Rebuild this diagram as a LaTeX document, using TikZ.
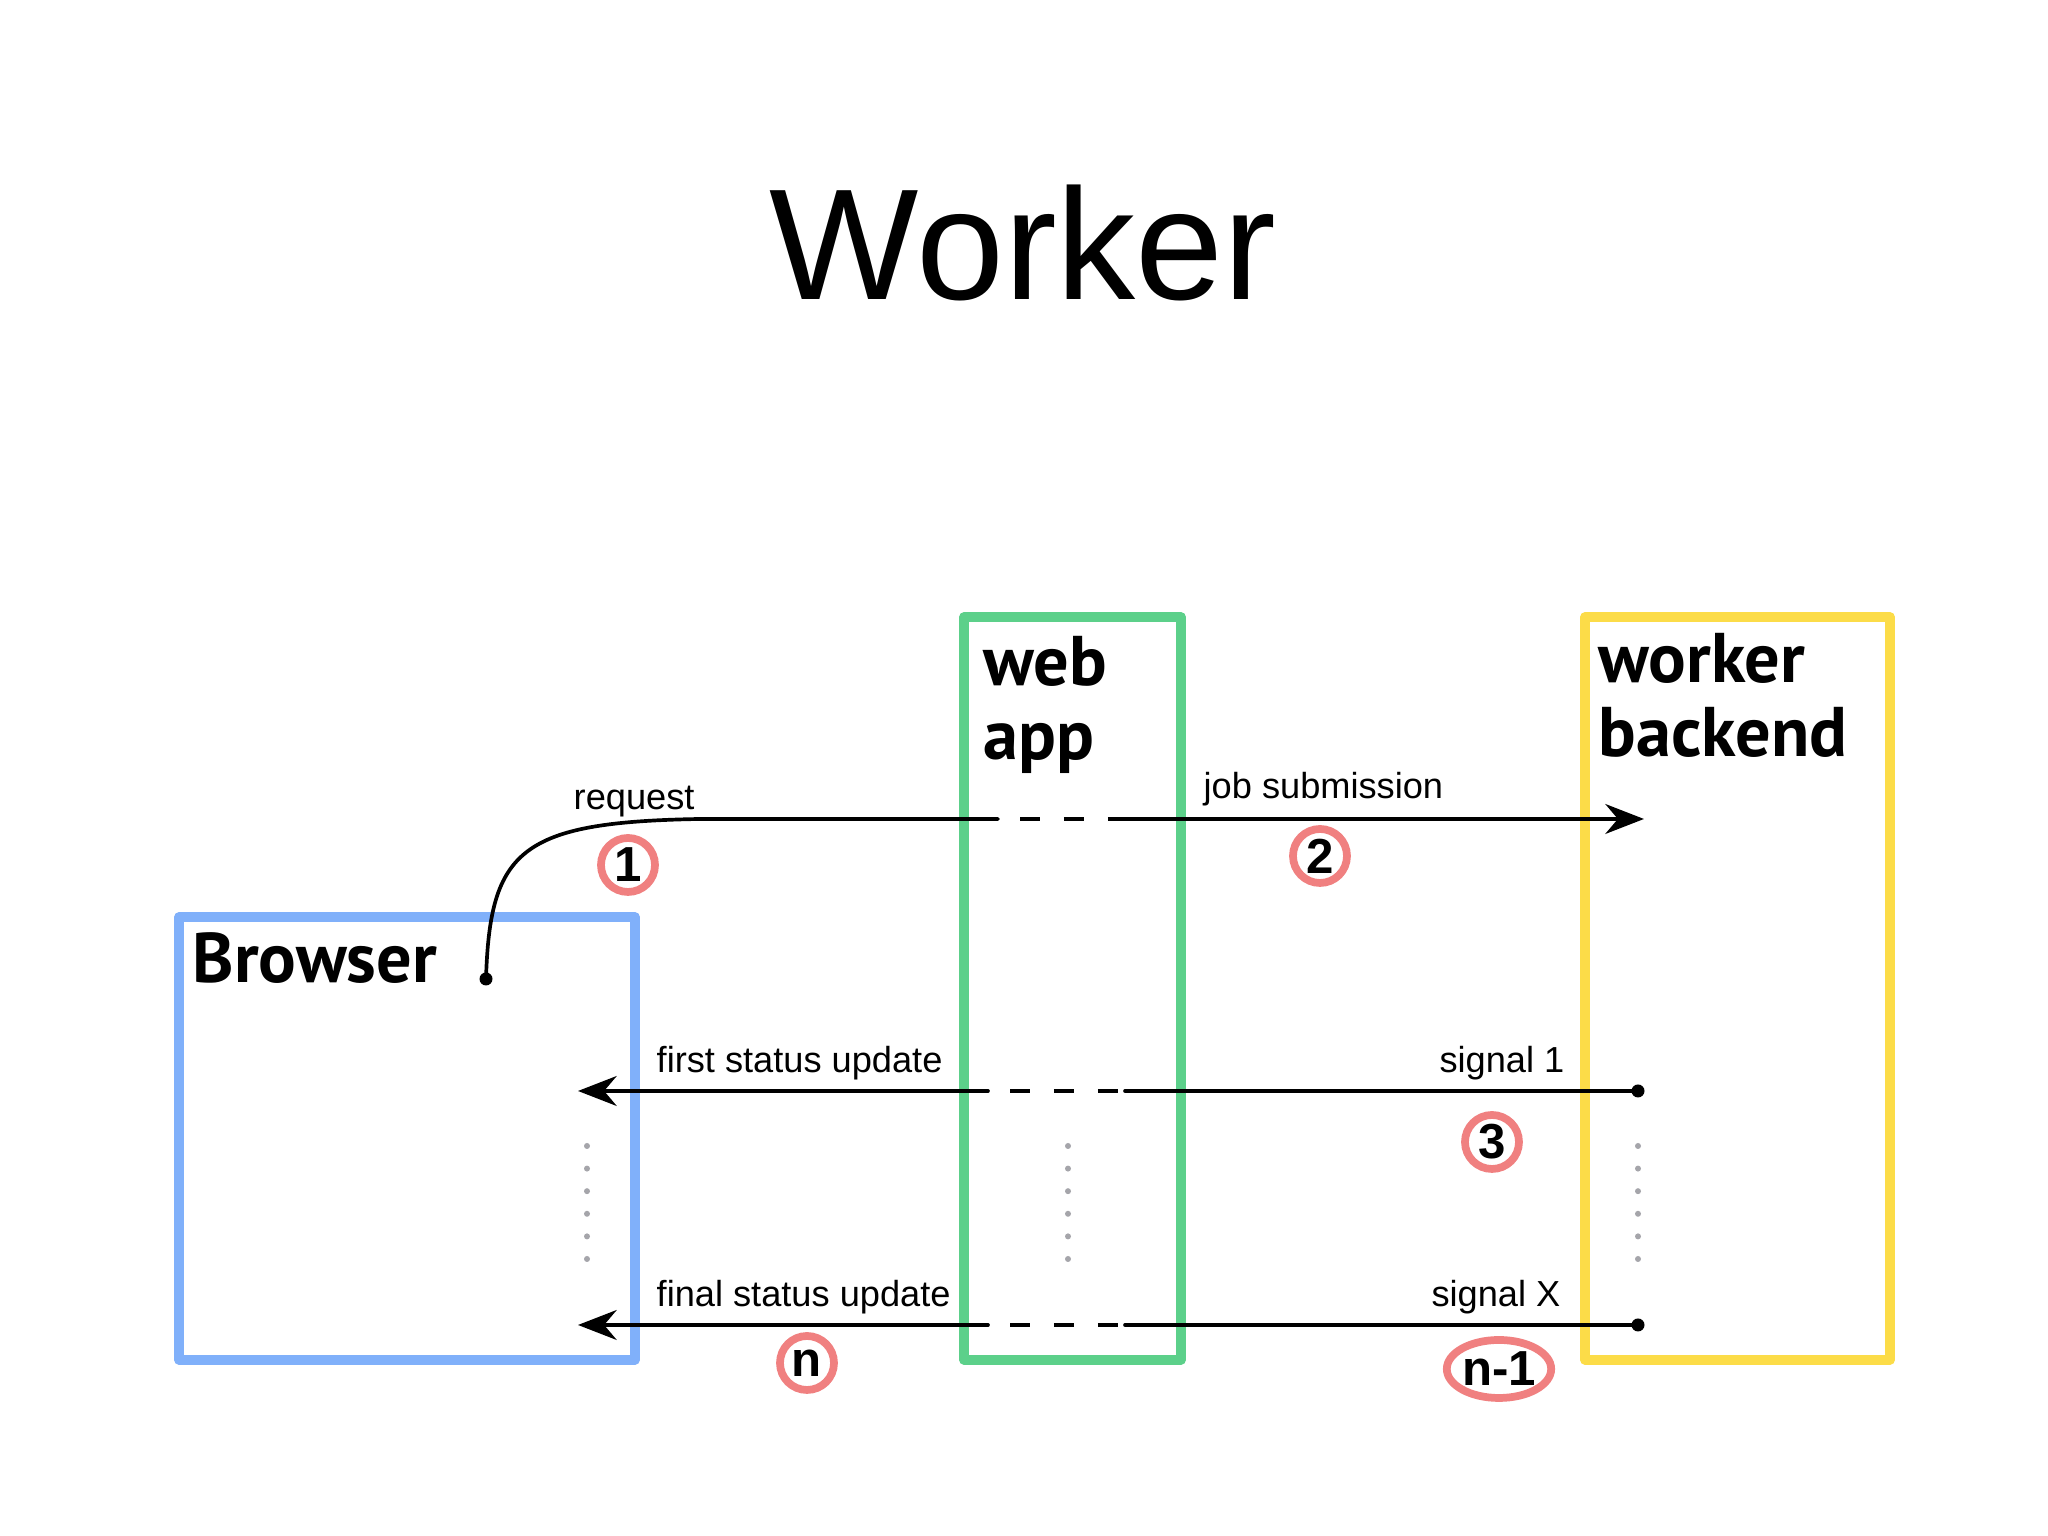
\documentclass[tikz,border=0pt]{standalone}
\usepackage{fontspec}
\setmainfont{Liberation Sans}
\newfontfamily\boxfont{PT Sans}
\usetikzlibrary{arrows.meta,shapes.geometric}
\definecolor{browserblue}{RGB}{128,176,250}
\definecolor{webgreen}{RGB}{92,208,138}
\definecolor{workeryellow}{RGB}{252,220,72}
\definecolor{badgered}{RGB}{240,128,128}
\definecolor{dotgray}{RGB}{165,165,170}

\begin{document}
\begin{tikzpicture}[>={Stealth[length=11pt,width=8.5pt]},font=\fontsize{10.3}{12}\selectfont,line cap=round,
  lane/.style={draw,line width=2.6pt,line join=round,inner sep=0pt},
  flow/.style={line width=1.05pt},
  gapdash/.style={flow,line cap=butt,dash pattern=on 5.7pt off 6.8pt,dash phase=6.24pt},
  badge/.style={circle,draw=badgered,fill=white,line width=2.2pt,minimum size=0.54cm,inner sep=0pt,font=\fontsize{14}{14}\selectfont\bfseries},
  tag/.style={inner sep=0pt},
  lanetitle/.style={inner sep=0pt,align=left,font=\boxfont\bfseries\fontsize{20}{21.3}\selectfont}]
\fill[white] (0,0) rectangle (20.48,15.36);
\useasboundingbox (0,0) rectangle (20.48,15.36);
% title
\node[font=\fontsize{45}{45}\selectfont,anchor=base,inner sep=0pt] (title) at (10.23,12.36) {Worker};
% the three lanes
\node[lane,draw=browserblue,minimum width=4.56cm,minimum height=4.43cm] (browser) at (4.07,3.975) {};
\node[lane,draw=webgreen,minimum width=2.17cm,minimum height=7.43cm] (webapp) at (10.725,5.475) {};
\node[lane,draw=workeryellow,minimum width=3.05cm,minimum height=7.43cm] (worker) at (17.375,5.475) {};
\node[lanetitle,anchor=base west] (browsername) at (1.92,5.53) {Browser};
\node[lanetitle,anchor=base west] (webappname) at (9.83,7.76) {web\\app};
\node[lanetitle,anchor=base west] (workername) at (15.98,7.79) {worker\\backend};
% request / job submission
\coordinate (reqdot) at (4.86,5.57);
\coordinate (reqin) at (9.98,7.17);
\coordinate (reqout) at (11.26,7.17);
\coordinate (reqtip) at (16.44,7.17);
\draw[flow] (reqdot) .. controls (4.90,6.86) and (5.20,7.14) .. (7.00,7.17) -- (reqin);
\draw[gapdash] (reqin) -- (reqout);
\draw[flow,->] (reqout) -- (reqtip);
\fill (reqdot) circle (0.065);
\node[tag,anchor=base west] (reqlabel) at (5.73,7.26) {request};
\node[tag,anchor=base west] (joblabel) at (12.03,7.37) {job submission};
% first status update
\coordinate (sigone) at (16.38,4.45);
\coordinate (sigonein) at (11.25,4.45);
\coordinate (sigoneout) at (9.88,4.45);
\coordinate (firsttip) at (5.78,4.45);
\draw[flow] (sigone) -- (sigonein);
\draw[gapdash] (sigoneout) -- (sigonein);
\draw[flow,->] (sigoneout) -- (firsttip);
\fill (sigone) circle (0.065);
\node[tag,anchor=base west] (firstlabel) at (6.56,4.63) {first status update};
\node[tag,anchor=base east] (sigonelabel) at (15.65,4.63) {signal 1};
% final status update
\coordinate (sigx) at (16.38,2.11);
\coordinate (sigxin) at (11.25,2.11);
\coordinate (sigxout) at (9.88,2.11);
\coordinate (finaltip) at (5.78,2.11);
\draw[flow] (sigx) -- (sigxin);
\draw[gapdash] (sigxout) -- (sigxin);
\draw[flow,->] (sigxout) -- (finaltip);
\fill (sigx) circle (0.065);
\node[tag,anchor=base west] (finallabel) at (6.56,2.29) {final status update};
\node[tag,anchor=base east] (sigxlabel) at (15.61,2.29) {signal X};
% more signals in between
\fill[dotgray] (5.87,3.90) circle (0.03) (5.87,3.674) circle (0.03) (5.87,3.448) circle (0.03) (5.87,3.222) circle (0.03) (5.87,2.996) circle (0.03) (5.87,2.77) circle (0.03);
\fill[dotgray] (10.68,3.90) circle (0.03) (10.68,3.674) circle (0.03) (10.68,3.448) circle (0.03) (10.68,3.222) circle (0.03) (10.68,2.996) circle (0.03) (10.68,2.77) circle (0.03);
\fill[dotgray] (16.38,3.90) circle (0.03) (16.38,3.674) circle (0.03) (16.38,3.448) circle (0.03) (16.38,3.222) circle (0.03) (16.38,2.996) circle (0.03) (16.38,2.77) circle (0.03);
% step numbers
\node[badge] (stepone) at (6.28,6.71) {1};
\node[badge] (steptwo) at (13.20,6.80) {2};
\node[badge] (stepthree) at (14.92,3.94) {3};
\node[badge] (stepn) at (8.07,1.73) {n};
\node[badge,ellipse,minimum width=0.94cm,minimum height=0.58cm] (stepnminus) at (14.99,1.67) {n-1};
\end{tikzpicture}
\end{document}
